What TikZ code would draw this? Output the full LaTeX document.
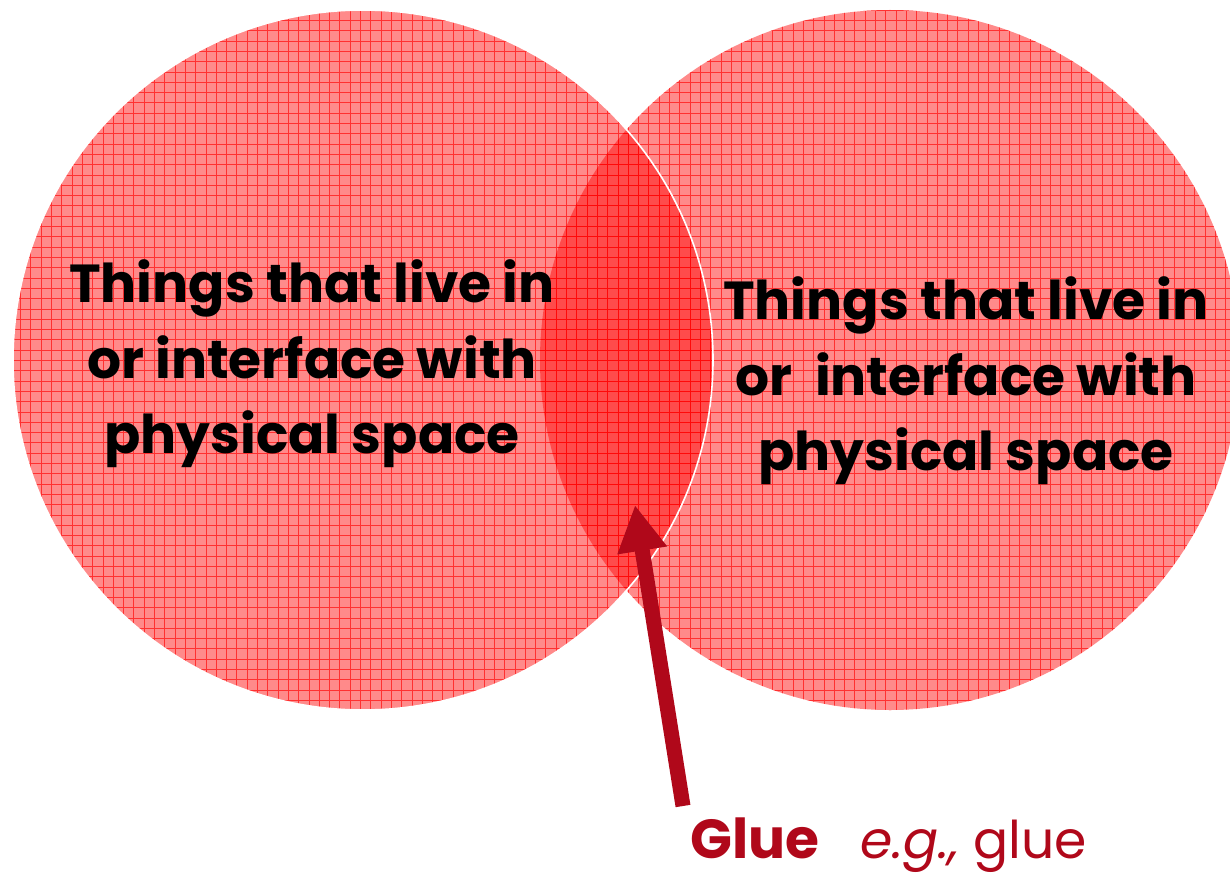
\documentclass[tikz,border=0pt]{standalone}
\usepackage{fontspec}
\setmainfont{Poppins}
\usetikzlibrary{arrows.meta}
\definecolor{gluered}{RGB}{176,8,26}
\begin{document}
\begin{tikzpicture}[x=1pt,y=-1pt,
  disc/.style={fill=red, fill opacity=0.46},
  gridline/.style={draw=red, line width=1pt, opacity=0.65},
  bigtext/.style={font=\fontsize{53.5}{75.5}\selectfont\bfseries, align=center, text=black, inner sep=0pt},
  gluebold/.style={font=\fontsize{55}{60}\selectfont\bfseries, text=gluered, inner sep=0pt, anchor=base west},
  gluelight/.style={font=\fontsize{52}{60}\selectfont, text=gluered, inner sep=0pt, anchor=base west},
  pointer/.style={draw=gluered, line width=15pt, -{Triangle[width=47pt,length=46pt]}}]
\useasboundingbox (0,0) rectangle (1230,877);
\clip (0,0) rectangle (1230,877);
\coordinate (cR) at (890,360);
\coordinate (cL) at (363,360);
% right circle
\fill[disc] (cR) circle[radius=350];
\begin{scope}
  \clip (cR) circle[radius=350];
  \draw[gridline, step=10.3pt] (500,0) grid (1240,720);
\end{scope}
% left circle
\fill[disc] (cL) circle[radius=350];
\begin{scope}
  \clip (cL) circle[radius=350];
  \draw[gridline, step=10.3pt] (0,0) grid (720,720);
\end{scope}
\draw[white, line width=1.6pt] (cL) circle[radius=350];
% texts
\node[bigtext] (leftTxt) at (312,364) {Things that live in\\or interface with\\physical space};
\node[bigtext] (rightTxt) at (966,381) {Things that live in\\or\ \ interface with\\physical space};
\node[gluebold] (glue) at (690,858) {Glue};
\node[gluelight] (eg) at (860,858) {\itshape e.g.,\upshape{} glue};
% arrow
\coordinate (arrStart) at (683,806);
\coordinate (arrTip) at (635,505);
\draw[pointer] (arrStart) -- (arrTip);
\end{tikzpicture}
\end{document}
